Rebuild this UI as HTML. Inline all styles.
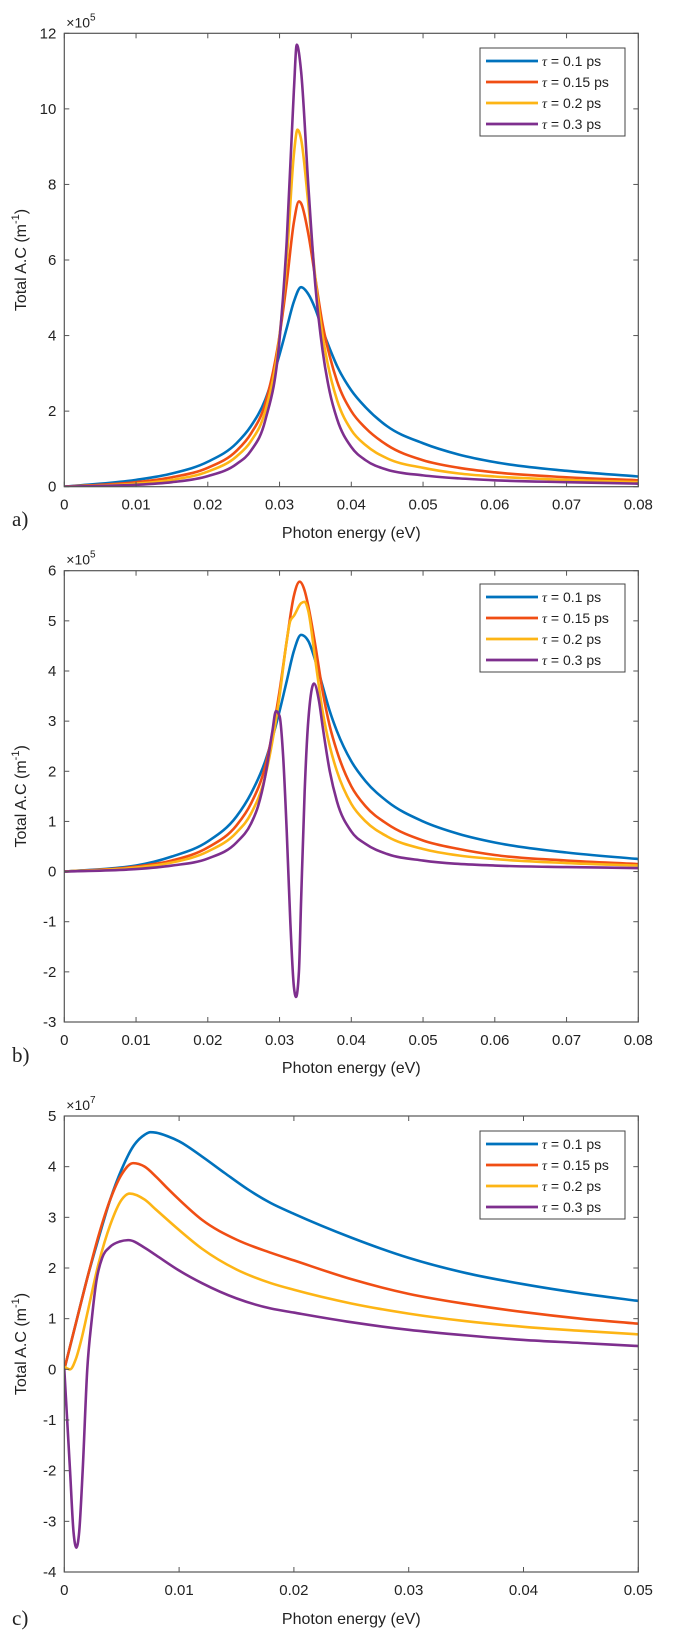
<!DOCTYPE html>
<html><head><meta charset="utf-8"><style>
html,body{margin:0;padding:0;background:#fff;}
svg{display:block;font-family:"Liberation Sans",sans-serif;}
</style></head><body>
<svg id="fig" width="676" height="1645" viewBox="0 0 676 1645" xmlns="http://www.w3.org/2000/svg"></svg>
<script>
// ---------- data ----------
const seriesLabels = ["0.1", "0.15", "0.2", "0.3"];
const seriesColors = ["#0072BD", "#F04E14", "#FDB515", "#7E2F8E"];

// Panel a (x10^5)
const aXTicks = [0,0.01,0.02,0.03,0.04,0.05,0.06,0.07,0.08];
const aXTickLabels = ["0","0.01","0.02","0.03","0.04","0.05","0.06","0.07","0.08"];
const aYTicks = [0,2,4,6,8,10,12];
const aYTickLabels = ["0","2","4","6","8","10","12"];
const aX1 = [0,0.01,0.015,0.02,0.024,0.026,0.028,0.030,0.031,0.032,0.033,0.034,0.035,0.036,0.037,0.038,0.040,0.042,0.045,0.05,0.055,0.06,0.07,0.08];
const aY1 = [0,0.18,0.35,0.66,1.15,1.6,2.3,3.5,4.2,4.9,5.28,5.1,4.7,4.15,3.65,3.2,2.55,2.1,1.6,1.15,0.85,0.65,0.42,0.27];
const aX2 = [0,0.01,0.015,0.02,0.024,0.026,0.028,0.030,0.031,0.032,0.0327,0.033,0.034,0.035,0.036,0.037,0.038,0.040,0.042,0.045,0.05,0.055,0.06,0.07,0.08];
const aY2 = [0,0.12,0.25,0.5,0.95,1.4,2.2,4.0,5.4,7.0,7.55,7.5,6.7,5.5,4.3,3.45,2.8,2.0,1.55,1.1,0.7,0.5,0.38,0.25,0.17];
const aX3 = [0,0.01,0.015,0.02,0.024,0.026,0.028,0.030,0.031,0.032,0.0325,0.033,0.034,0.035,0.036,0.037,0.038,0.040,0.042,0.045,0.05,0.055,0.06,0.07,0.08];
const aY3 = [0,0.08,0.18,0.4,0.8,1.2,2.0,4.0,6.0,8.8,9.45,9.2,7.5,5.5,4.0,3.0,2.3,1.5,1.1,0.75,0.5,0.35,0.27,0.18,0.12];
const aX4 = [0,0.01,0.015,0.02,0.024,0.026,0.028,0.030,0.031,0.032,0.0324,0.033,0.034,0.035,0.036,0.037,0.038,0.040,0.042,0.045,0.05,0.055,0.06,0.07,0.08];
const aY4 = [0,0.05,0.12,0.28,0.6,0.95,1.75,3.9,6.5,10.5,11.7,11.0,8.0,5.3,3.6,2.5,1.8,1.05,0.7,0.45,0.3,0.22,0.17,0.12,0.08];

// Panel b (x10^5)
const bXTicks = [0,0.01,0.02,0.03,0.04,0.05,0.06,0.07,0.08];
const bXTickLabels = ["0","0.01","0.02","0.03","0.04","0.05","0.06","0.07","0.08"];
const bYTicks = [-3,-2,-1,0,1,2,3,4,5,6];
const bYTickLabels = ["-3","-2","-1","0","1","2","3","4","5","6"];
const bX1 = [0,0.01,0.015,0.02,0.024,0.026,0.028,0.030,0.031,0.032,0.033,0.034,0.035,0.036,0.037,0.038,0.040,0.042,0.045,0.05,0.055,0.06,0.07,0.08];
const bY1 = [0,0.12,0.3,0.6,1.1,1.55,2.2,3.2,3.8,4.4,4.72,4.6,4.2,3.7,3.2,2.8,2.2,1.8,1.4,1.0,0.75,0.58,0.38,0.25];
const bX2 = [0,0.01,0.015,0.02,0.024,0.026,0.028,0.030,0.031,0.032,0.0328,0.0335,0.034,0.035,0.036,0.037,0.038,0.040,0.042,0.045,0.05,0.055,0.06,0.07,0.08];
const bY2 = [0,0.1,0.22,0.48,0.92,1.35,2.1,3.6,4.6,5.5,5.78,5.6,5.3,4.5,3.6,2.9,2.4,1.7,1.3,0.95,0.62,0.45,0.33,0.22,0.15];
const bX3 = [0,0.01,0.015,0.02,0.024,0.026,0.028,0.030,0.031,0.0315,0.032,0.033,0.0335,0.034,0.035,0.036,0.037,0.038,0.040,0.042,0.045,0.05,0.055,0.06,0.07,0.08];
const bY3 = [0,0.08,0.18,0.4,0.78,1.15,1.9,3.5,4.6,5.0,5.1,5.35,5.38,5.2,4.2,3.2,2.5,2.0,1.35,1.0,0.7,0.45,0.32,0.25,0.17,0.12];
const bX4 = [0,0.01,0.015,0.02,0.024,0.026,0.027,0.028,0.029,0.0295,0.0300,0.0305,0.031,0.0315,0.032,0.0323,0.0327,0.033,0.0335,0.034,0.0348,0.0355,0.036,0.037,0.038,0.040,0.042,0.045,0.05,0.06,0.07,0.08];
const bY4 = [0,0.05,0.12,0.26,0.58,0.95,1.3,1.9,2.8,3.2,3.1,2.3,0.8,-1.0,-2.3,-2.5,-2.0,-0.6,1.6,3.0,3.75,3.4,2.9,2.0,1.4,0.8,0.55,0.35,0.22,0.12,0.09,0.07];

// Panel c (x10^7)
const cXTicks = [0,0.01,0.02,0.03,0.04,0.05];
const cXTickLabels = ["0","0.01","0.02","0.03","0.04","0.05"];
const cYTicks = [-4,-3,-2,-1,0,1,2,3,4,5];
const cYTickLabels = ["-4","-3","-2","-1","0","1","2","3","4","5"];
const cX1 = [0,0.001,0.002,0.003,0.004,0.005,0.006,0.007,0.0075,0.008,0.009,0.010,0.012,0.014,0.016,0.018,0.02,0.025,0.03,0.035,0.04,0.045,0.05];
const cY1 = [0,0.9,1.8,2.6,3.35,3.95,4.4,4.63,4.68,4.67,4.6,4.5,4.2,3.87,3.55,3.28,3.07,2.6,2.2,1.9,1.68,1.5,1.35];
const cX2 = [0,0.001,0.002,0.003,0.004,0.005,0.006,0.007,0.008,0.009,0.010,0.012,0.015,0.018,0.02,0.025,0.03,0.035,0.04,0.045,0.05];
const cY2 = [0,0.9,1.8,2.65,3.35,3.85,4.07,4.0,3.8,3.57,3.35,2.95,2.56,2.3,2.15,1.78,1.49,1.29,1.13,1.0,0.9];
const cX3 = [0,0.0005,0.001,0.0015,0.002,0.003,0.004,0.005,0.0057,0.007,0.008,0.010,0.012,0.015,0.018,0.02,0.025,0.03,0.035,0.04,0.045,0.05];
const cY3 = [0.05,0.0,0.2,0.6,1.1,2.1,2.85,3.35,3.47,3.35,3.15,2.75,2.38,1.97,1.7,1.57,1.3,1.1,0.95,0.84,0.76,0.69];
const cX4 = [0,0.0005,0.0008,0.00105,0.0013,0.0016,0.002,0.0024,0.0028,0.0033,0.004,0.0048,0.0056,0.007,0.008,0.01,0.012,0.015,0.018,0.02,0.025,0.03,0.035,0.04,0.045,0.05];
const cY4 = [0,-2.0,-3.2,-3.52,-3.2,-2.0,0.0,1.0,1.75,2.2,2.42,2.52,2.55,2.4,2.25,1.95,1.7,1.4,1.2,1.12,0.93,0.78,0.67,0.58,0.52,0.46];

// ---------- drawing ----------
const NS = "http://www.w3.org/2000/svg";
const svg = document.getElementById("fig");
function mk(tag, attrs, parent){
  const e = document.createElementNS(NS, tag);
  for (const k in attrs) e.setAttribute(k, attrs[k]);
  (parent||svg).appendChild(e);
  return e;
}
function sgn(v){ return v>0?1:(v<0?-1:0); }
// Steffen monotone cubic interpolation (smooth, no overshoot)
function smoothPath(px, py){
  const n = px.length;
  if (n < 2) return "";
  const h = [], d = [], m = new Array(n);
  for (let i=0;i<n-1;i++){ h.push(px[i+1]-px[i]); d.push((py[i+1]-py[i])/h[i]); }
  for (let i=1;i<n-1;i++){
    const p = (d[i-1]*h[i] + d[i]*h[i-1])/(h[i-1]+h[i]);
    m[i] = (sgn(d[i-1])+sgn(d[i])) * Math.min(Math.abs(d[i-1]), Math.abs(d[i]), 0.5*Math.abs(p));
  }
  m[0] = d[0]; m[n-1] = d[n-2];
  let s = "M"+px[0].toFixed(2)+","+py[0].toFixed(2);
  for (let i=0;i<n-1;i++){
    const t=h[i]/3;
    s += " C"+(px[i]+t).toFixed(2)+","+(py[i]+m[i]*t).toFixed(2)+" "+(px[i+1]-t).toFixed(2)+","+(py[i+1]-m[i+1]*t).toFixed(2)+" "+px[i+1].toFixed(2)+","+py[i+1].toFixed(2);
  }
  return s;
}

function drawPanel(cfg){
  const g = mk("g", {});
  
  
  const L=cfg.left, R=cfg.right, T=cfg.top, B=cfg.bottom;
  const xs = v => L + (v - cfg.xmin)/(cfg.xmax-cfg.xmin)*(R-L);
  const ys = v => B - (v - cfg.ymin)/(cfg.ymax-cfg.ymin)*(B-T);

  const cid = cfg.name+"-clip";
  const defs = mk("defs", {}, g);
  const cp = mk("clipPath", {id: cid}, defs);
  mk("rect", {x:L, y:T, width:R-L, height:B-T}, cp);

  const sg = mk("g", {"clip-path":"url(#"+cid+")"}, g);
  cfg.series.forEach((s, i) => {
    const path = mk("path", {d: smoothPath(s.x.map(xs), s.y.map(ys)), fill:"none", stroke: seriesColors[i], "stroke-width": 2.6, "stroke-linejoin":"round", "stroke-linecap":"round"}, sg);
    
    
  });

  const box = mk("rect", {x:L, y:T, width:R-L, height:B-T, fill:"none", stroke:"#555", "stroke-width":1.2}, g);
  
  

  cfg.xTicks.forEach((v, i) => {
    const x = xs(v);
    mk("line", {x1:x, y1:B, x2:x, y2:B-5, stroke:"#555", "stroke-width":1}, g);
    mk("line", {x1:x, y1:T, x2:x, y2:T+5, stroke:"#555", "stroke-width":1}, g);
    const t = mk("text", {x:x, y:B+23, "text-anchor":"middle", "font-size":15, fill:"#222"}, g);
    t.textContent = cfg.xTickLabels[i];
    
    
  });
  cfg.yTicks.forEach((v, i) => {
    const y = ys(v);
    mk("line", {x1:L, y1:y, x2:L+5, y2:y, stroke:"#555", "stroke-width":1}, g);
    mk("line", {x1:R, y1:y, x2:R-5, y2:y, stroke:"#555", "stroke-width":1}, g);
    const t = mk("text", {x:L-8, y:y+5, "text-anchor":"end", "font-size":15, fill:"#222"}, g);
    t.textContent = cfg.yTickLabels[i];
    
    
  });

  const ex = mk("text", {x:L+2, y:T-6, "font-size":14, fill:"#222"}, g);
  
  
  const e1 = mk("tspan", {}, ex); e1.textContent = "×10";
  const e2 = mk("tspan", {dy:-7, "font-size":10}, ex); e2.textContent = cfg.exp;

  const cy = (T+B)/2;
  const yt = mk("text", {x:0, y:0, transform:"translate(26,"+cy+") rotate(-90)", "text-anchor":"middle", "font-size":16, fill:"#222"}, g);
  
  
  const y1 = mk("tspan", {}, yt); y1.textContent = "Total A.C (m";
  const y2 = mk("tspan", {dy:-7, "font-size":11}, yt); y2.textContent = "-1";
  const y3 = mk("tspan", {dy:7}, yt); y3.textContent = ")";

  const xt = mk("text", {x:(L+R)/2, y:cfg.xTitleY, "text-anchor":"middle", "font-size":16, fill:"#222"}, g);
  xt.textContent = "Photon energy (eV)";
  
  

  const pl = mk("text", {x:12, y:cfg.letterY, "font-size":21, fill:"#222", "font-family":"Liberation Serif, serif"}, g);
  pl.textContent = cfg.letter;
  
  

  const lg = mk("g", {}, g);
  
  
  mk("rect", {x:480, y:cfg.legTop, width:145, height:88, fill:"#fff", stroke:"#444", "stroke-width":1}, lg);
  seriesLabels.forEach((lab, i) => {
    const ry = cfg.legTop + 13 + i*21;
    const en = mk("g", {}, lg);
    
    
    mk("line", {x1:486, y1:ry, x2:538, y2:ry, stroke:seriesColors[i], "stroke-width":2.8}, en);
    const t = mk("text", {x:542, y:ry+5, "font-size":14, fill:"#222"}, en);
    const ta = mk("tspan", {"font-style":"italic", "font-family":"Liberation Serif, serif"}, t); ta.textContent = "τ";
    const tb = mk("tspan", {}, t); tb.textContent = " = " + lab + " ps";
  });
}

drawPanel({name:"panel-a", left:64.3, right:638.3, top:33.3, bottom:486.7, xmin:0, xmax:0.08, ymin:0, ymax:12,
  xTicks:aXTicks, xTickLabels:aXTickLabels, yTicks:aYTicks, yTickLabels:aYTickLabels, exp:"5",
  xTitleY:538, letter:"a)", letterY:526, legTop:48,
  series:[{x:aX1,y:aY1},{x:aX2,y:aY2},{x:aX3,y:aY3},{x:aX4,y:aY4}]});
drawPanel({name:"panel-b", left:64.3, right:638.3, top:570.7, bottom:1022, xmin:0, xmax:0.08, ymin:-3, ymax:6,
  xTicks:bXTicks, xTickLabels:bXTickLabels, yTicks:bYTicks, yTickLabels:bYTickLabels, exp:"5",
  xTitleY:1073, letter:"b)", letterY:1062, legTop:584,
  series:[{x:bX1,y:bY1},{x:bX2,y:bY2},{x:bX3,y:bY3},{x:bX4,y:bY4}]});
drawPanel({name:"panel-c", left:64.3, right:638.3, top:1116, bottom:1572, xmin:0, xmax:0.05, ymin:-4, ymax:5,
  xTicks:cXTicks, xTickLabels:cXTickLabels, yTicks:cYTicks, yTickLabels:cYTickLabels, exp:"7",
  xTitleY:1624, letter:"c)", letterY:1625, legTop:1131,
  series:[{x:cX1,y:cY1},{x:cX2,y:cY2},{x:cX3,y:cY3},{x:cX4,y:cY4}]});
</script>
</body></html>
